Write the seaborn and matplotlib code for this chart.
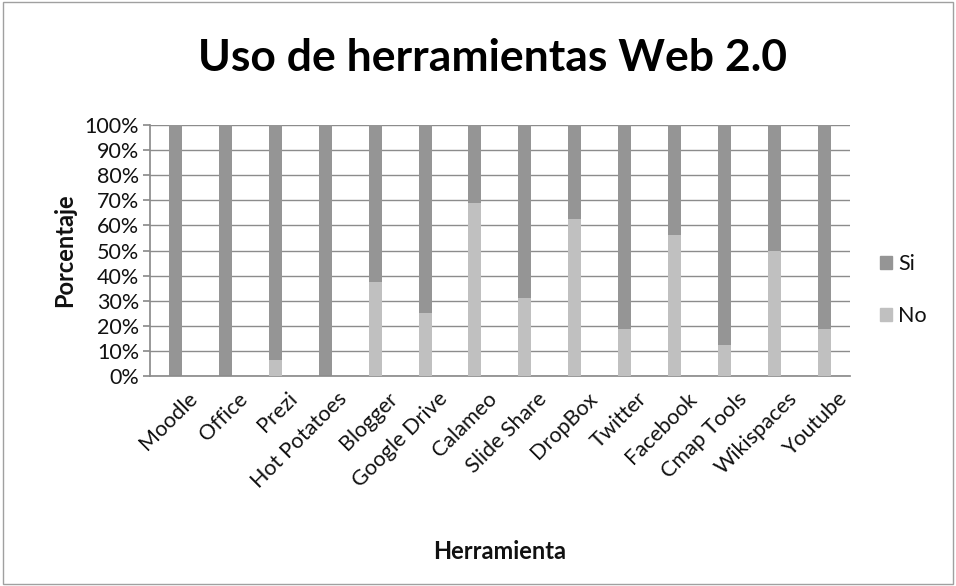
import pandas as pd
import matplotlib.pyplot as plt
import matplotlib.ticker as mticker
import matplotlib.patches as patches
import matplotlib.transforms as mtransforms
import seaborn as sns

# --- datos ---
herramientas = [
    "Moodle", "Office", "Prezi", "Hot Potatoes", "Blogger", "Google Drive",
    "Calameo", "Slide Share", "DropBox", "Twitter", "Facebook", "Cmap Tools",
    "Wikispaces", "Youtube",
]
no_pct = [0, 0, 6.25, 0, 37.5, 25, 68.75, 31.25, 62.5, 18.75, 56.25, 12.5, 50, 18.75]
si_pct = [100, 100, 93.75, 100, 62.5, 75, 31.25, 68.75, 37.5, 81.25, 43.75, 87.5, 50, 81.25]

COLOR_SI = "#959595"
COLOR_NO = "#c0c0c0"
TEXT_COLOR = "#111111"

df = pd.DataFrame({"Herramienta": herramientas, "No": no_pct, "Si": si_pct})
df["Total"] = df["No"] + df["Si"]

sns.set_theme(style="white")
plt.rcParams["font.family"] = ["Lato", "DejaVu Sans"]

fig = plt.figure(figsize=(9.56, 5.86), dpi=100)
ax = fig.add_axes([0.157, 0.358, 0.732, 0.429])

# barra apilada: total (Si encima) y luego No abajo
sns.barplot(data=df, x="Herramienta", y="Total", color=COLOR_SI, width=0.26,
            saturation=1, linewidth=0, ax=ax, zorder=2)
sns.barplot(data=df, x="Herramienta", y="No", color=COLOR_NO, width=0.26,
            saturation=1, linewidth=0, ax=ax, zorder=3)

ax.set_ylim(0, 100)
ax.set_xlim(-0.5, len(herramientas) - 0.5)
ax.yaxis.set_major_locator(mticker.MultipleLocator(10))
ax.yaxis.set_major_formatter(mticker.PercentFormatter(xmax=100, decimals=0))
ax.grid(True, axis="y", color="#8c8c8c", linewidth=1.0, zorder=0)
ax.set_axisbelow(True)

for s in ["top", "right"]:
    ax.spines[s].set_visible(False)
ax.spines["left"].set_color("#8c8c8c")
ax.spines["bottom"].set_color("#8c8c8c")

ax.tick_params(axis="y", labelsize=15.5, colors=TEXT_COLOR, length=5, color="#8c8c8c",
               left=True, pad=3)
ax.tick_params(axis="x", labelsize=15.5, colors=TEXT_COLOR, length=0, pad=9)
shift = mtransforms.ScaledTranslation(12 / 100, 0, fig.dpi_scale_trans)
for lbl in ax.get_xticklabels():
    lbl.set_rotation(45)
    lbl.set_ha("right")
    lbl.set_rotation_mode("anchor")
    lbl.set_transform(lbl.get_transform() + shift)

ax.set_ylabel("Porcentaje", fontsize=17, fontweight="bold", color=TEXT_COLOR, labelpad=6)
ax.set_xlabel("Herramienta", fontsize=17, fontweight="bold", color=TEXT_COLOR)
ax.xaxis.set_label_coords(0.5, -0.65)

fig.suptitle("Uso de herramientas Web 2.0", fontsize=32, fontweight="bold",
             color="#000000", x=0.515, y=0.935)

# leyenda
legend_handles = [patches.Patch(color=COLOR_SI, label="Si"),
                  patches.Patch(color=COLOR_NO, label="No")]
fig.legend(handles=legend_handles, loc="center left", bbox_to_anchor=(0.9, 0.505),
           frameon=False, fontsize=15.5, handlelength=0.55, handleheight=0.55,
           handletextpad=0.3, labelspacing=1.5, labelcolor=TEXT_COLOR)

# borde del gráfico
fig.patches.append(patches.Rectangle((0.003, 0.003), 0.994, 0.994, transform=fig.transFigure,
                                     fill=False, edgecolor="#a0a0a0", linewidth=1))

fig.savefig("out.png", dpi=100)
